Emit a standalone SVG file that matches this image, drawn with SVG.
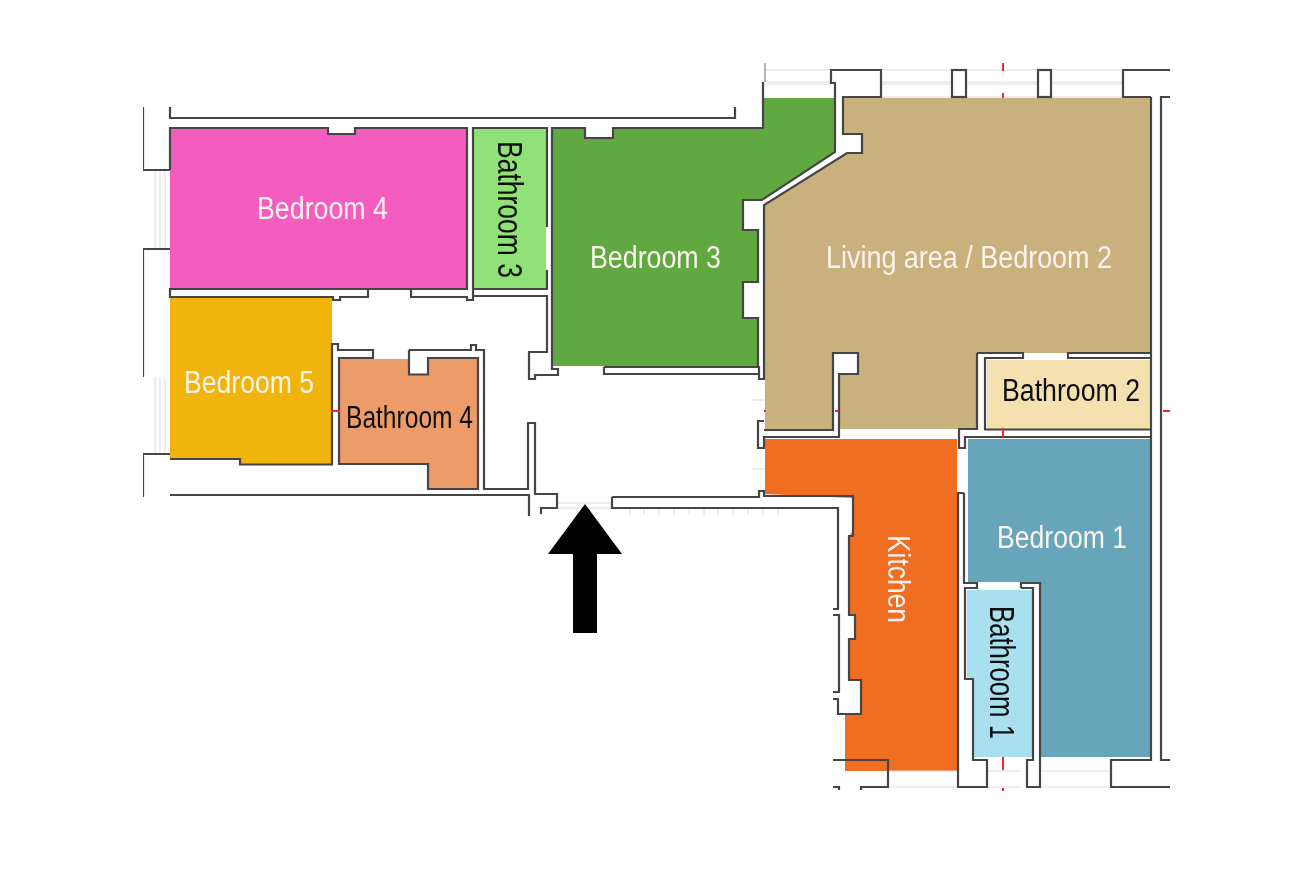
<svg xmlns="http://www.w3.org/2000/svg" width="1310" height="875" viewBox="0 0 1310 875">
<defs><filter id="soft" x="0" y="0" width="100%" height="100%"><feGaussianBlur stdDeviation="0.45"/></filter></defs>
<style>
.w{fill:none;stroke:#444;stroke-width:2.200;stroke-linejoin:miter}
.l{fill:none;stroke:#dcdcdc;stroke-width:1}
.r{fill:none;stroke:#f22;stroke-width:2}
.t{font-family:"Liberation Sans",Arial,sans-serif;font-size:31px}
.v{font-size:35px}
.wt{fill:#fdf3ee}
.bk{fill:#111}
</style>
<rect width="1310" height="875" fill="#fff"/>
<g filter="url(#soft)">
<g id="rooms">
<path id="bedroom4" fill="#f45cc0" d="M170,129H328V134H355V129H467V289H170Z"/>
<path id="bathroom3" fill="#90e278" d="M473,129H546V289H473Z"/>
<path id="bedroom3" fill="#5ea941" d="M553,129H585V138H613V129H763V98H836V152L762,200H743V230H758V282H743V318H758V366H553Z"/>
<path id="living" fill="#c8b17d" d="M843,98H1150V353H977V429H840V374H858V353H832V429H765V205L847,153H862V134H843Z"/>
<path id="bathroom2" fill="#f5e1b0" d="M987,360H1150V429H987Z"/>
<path id="bedroom5" fill="#f0b40a" d="M170,297H332V465H241V460H170Z"/>
<path id="bathroom4" fill="#ee9b6b" d="M339,359H409V375H428V359H478V489H428V464H339Z"/>
<path id="kitchen" fill="#f06d22" d="M765,439H957V771H845V715H861V680H849V639H855V615H849V536L852,532V498L765,494Z"/>
<path id="bedroom1" fill="#66a5ba" d="M968,439H1150V757H1040V582H968Z"/>
<path id="bathroom1" fill="#a8e0ef" d="M967,590H1033V757H974V680H967Z"/>
</g>
<g id="light-lines">
<path class="l" d="M155,170V249M160,170V249M165,170V249M155,377V454M160,377V454M165,377V454"/>
<path class="l" d="M766,70H831M766,82H831M766,84H831M881,70H1123M881,82H952M881,84H952M966,82H1038M966,84H1038M1051,82H1123M1051,84H1123M881,97H1123"/>
<path class="l" d="M557,503H612M557,508H612M752,400H765M752,469H765M888,771H958M888,787H958M1040,771H1111M1040,787H1111M987,771H1021M987,787H1021"/>
<path class="l" d="M630,509V515M644,509V515M659,509V515M674,509V515M689,509V515M704,509V515M718,509V515M733,509V515M748,509V515M763,509V515M778,509V515"/>
<path d="M765,63V82" fill="none" stroke="#999" stroke-width="1.500"/>
</g>
<g id="walls">
<path class="w" d="M170,107V118H735V107"/>
<path class="w" d="M143,107V170H170M143,377V249H170M143,497V454H170M170,495H529V516"/>
<path class="w" d="M170,170V128H328V134H355V128H467V289H170V297H333V300H340V297H368V289H411V297H467V300H473V296H547V352H529V379H535V375H558V369H552V128H585V138H613V128H763V82M473,296V289H547V270M547,227V128H473V289M411,289H467"/>
<path class="w" d="M409,350V374.500H428V358H478V489H428V464H339V358H373V350H338V344H332V464.500H240V459H170"/>
<path class="w" d="M409,350H471V345H476V350H484V489H528V423H535V494H557V508H541V514"/>
<path class="w" d="M612,497V508H838V609H833M612,497H759V491H764V496H853V536H849V615H855V639H849V680H861V714H838V699H833M833,615H839V692H833"/>
<path class="w" d="M604,367H759V379H764V205L847,153H862V134H843V97H881V70H831V83H835V152L762,200H743V230H758V282H743V318H758V367M604,367V374H759"/>
<path class="w" d="M764,421H758V448H764V437H839V374H858V353H833V430H764"/>
<path class="w" d="M977,353V429H959V448H965V437H1151M977,353H1023V358H985V429.500H1151M1151,353H1068V358H1151M1151,97V760H1111V787H1170"/>
<path class="w" d="M1170,70H1123V97H1151M1170,97H1161V760H1170"/>
<rect class="w" x="952" y="70" width="14" height="27"/>
<rect class="w" x="1038" y="70" width="13" height="27"/>
<path class="w" d="M833,760H888V787H861V790M833,787H839V790"/>
<path class="w" d="M964,493H958V787H987V760H973V679H965V588H977V583H964V493"/>
<path class="w" d="M1021,588V583H1040V787H1027V760H1033V588H1021"/>
</g>
<g id="red-marks">
<path class="r" d="M1003,63V71M1003,93V98M331,411H340M1163,411H1170M1003,428V437M1003,757V770M835,411H839M764,411H766M1003,788V791"/>
</g>
<path id="entrance-arrow" fill="#000" d="M585,504L622,554H597V633H573V554H548Z"/>
<g id="labels">
<text class="t wt" x="257" y="219" textLength="131" lengthAdjust="spacingAndGlyphs">Bedroom 4</text>
<text class="t v bk" transform="translate(498,141) rotate(90)" textLength="137" lengthAdjust="spacingAndGlyphs">Bathroom 3</text>
<text class="t wt" x="590" y="268" textLength="131" lengthAdjust="spacingAndGlyphs">Bedroom 3</text>
<text class="t wt" x="826" y="268" textLength="286" lengthAdjust="spacingAndGlyphs">Living area / Bedroom 2</text>
<text class="t bk" x="1002" y="401" textLength="138" lengthAdjust="spacingAndGlyphs">Bathroom 2</text>
<text class="t wt" x="184" y="393" textLength="130" lengthAdjust="spacingAndGlyphs">Bedroom 5</text>
<text class="t bk" x="346" y="428" textLength="127" lengthAdjust="spacingAndGlyphs">Bathroom 4</text>
<text class="t wt" x="997" y="548" textLength="130" lengthAdjust="spacingAndGlyphs">Bedroom 1</text>
<text class="t wt" transform="translate(888,535) rotate(90)" textLength="88" lengthAdjust="spacingAndGlyphs">Kitchen</text>
<text class="t v bk" transform="translate(990,606) rotate(90)" textLength="133" lengthAdjust="spacingAndGlyphs">Bathroom 1</text>
</g>
</g>
</svg>
